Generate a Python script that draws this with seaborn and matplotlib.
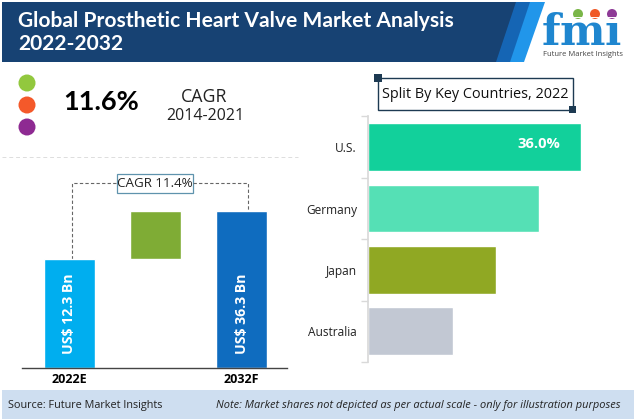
#!/usr/bin/env python3
# -*- coding: utf-8 -*-

import matplotlib
matplotlib.use("Agg")
import matplotlib.pyplot as plt
from matplotlib.patches import Polygon, Rectangle, Circle, Arc
import seaborn as sns

# data
periods = ["2022E", "Growth", "2032F"]
market_labels = ["US$ 12.3 Bn", "US$ 36.3 Bn"]
# bars are not to scale in the original, so these are drawn heights
market_heights = [10.9, 15.7]
growth_bottom = 10.9
growth_height = 4.8

countries = ["U.S.", "Germany", "Japan", "Australia"]
shares = [36.0, 28.9, 21.6, 14.3]
share_label = "36.0%"

sns.set_theme(style="white")
plt.rcParams["font.family"] = ["Lato", "DejaVu Sans"]
plt.rcParams["mathtext.fontset"] = "dejavuserif"

W, H = 634, 419
fig = plt.figure(figsize=(W / 100, H / 100), dpi=100, facecolor="white")


def px_axes(x0, y0, x1, y1):
    # axes from pixel box, y measured from top of the image
    return fig.add_axes([x0 / W, 1 - y1 / H, (x1 - x0) / W, (y1 - y0) / H])


# background layer in pixel coordinates
bg = fig.add_axes([0, 0, 1, 1])
bg.set_xlim(0, W)
bg.set_ylim(H, 0)
bg.axis("off")

# header band
bg.add_patch(Polygon([(2, 2), (545, 2), (524, 62), (2, 62)], fc="#2196ea", ec="none"))
bg.add_patch(Polygon([(2, 2), (530, 2), (510, 62), (2, 62)], fc="#1565b4", ec="none"))
bg.add_patch(Polygon([(2, 2), (516, 2), (496, 62), (2, 62)], fc="#174273", ec="none"))
bg.text(18, 21, "Global Prosthetic Heart Valve Market Analysis", color="white",
        fontsize=15.1, fontweight="bold", va="center", ha="left")
bg.text(18, 44, "2022-2032", color="white", fontsize=15.1, fontweight="bold",
        va="center", ha="left")

# logo
bg.text(582, 45, r"$\mathbf{fm\imath}$", color="#1f86cf", fontsize=31,
        ha="center", va="baseline")
for y in range(17, 48, 4):
    bg.plot([540, 626], [y, y], color="white", lw=0.7)
for cx, col in zip([578, 595, 612], ["#7ab648", "#f05a28", "#8e3a96"]):
    bg.add_patch(Circle((cx, 14), 5, fc=col, ec="none"))
bg.add_patch(Arc((595, 8), 52, 24, theta1=25, theta2=155, angle=180, ec="#2a8fd0", lw=0.8))
bg.text(583, 54, "Future Market Insights", color="#444444", fontsize=5.5,
        ha="center", va="center", family="Open Sans")

# KPI block
for cy, col in zip([83, 105, 127], ["#92c83e", "#f4592a", "#8e2a92"]):
    bg.add_patch(Circle((27, cy), 8.5, fc=col, ec="none"))
bg.text(63, 102, "11.6%", color="black", fontsize=19.5, fontweight="bold",
        va="center", ha="left")
bg.text(204, 97, "CAGR", color="#222222", fontsize=12.8, va="center", ha="center",
        family="Open Sans")
bg.text(205, 116, "2014-2021", color="#222222", fontsize=11.5, va="center",
        ha="center", family="Open Sans")
bg.plot([2, 298], [157, 157], color="#dddddd", lw=0.7, ls=(0, (4, 3)))

# CAGR connector
bg.plot([72, 72, 117], [259, 183, 183], color="#666666", lw=0.8, ls=(0, (3, 2)))
bg.plot([193, 248, 248], [183, 183, 212], color="#666666", lw=0.8, ls=(0, (3, 2)))
bg.add_patch(Rectangle((117, 174), 76, 19, fc="white", ec="#5f93ad", lw=0.9))
bg.text(155, 183.5, "CAGR 11.4%", color="#222222", fontsize=9.6, ha="center",
        va="center", family="Open Sans")

# legend-like title of the right chart
bg.add_patch(Rectangle((378, 78), 195, 32, fc="white", ec="#1d3a52", lw=1))
bg.add_patch(Rectangle((374, 74), 8, 8, fc="#1d3a52", ec="none"))
bg.add_patch(Rectangle((569, 106), 7, 7, fc="#1d3a52", ec="none"))
bg.text(475, 94.5, "Split By Key Countries, 2022", color="#111111", fontsize=10.4,
        ha="center", va="center", family="Open Sans")

# footer
bg.add_patch(Rectangle((2, 390), 632, 29, fc="#cedef0", ec="none"))
bg.text(8, 405, "Source: Future Market Insights", color="#222222", fontsize=7.8,
        va="center", ha="left", family="Open Sans")
bg.text(621, 405, "Note: Market shares not depicted as per actual scale - only for illustration purposes",
        color="#222222", fontsize=7.9, style="italic", va="center", ha="right",
        family="Open Sans")

# left chart
ax = px_axes(22, 156.5, 286.5, 367.5)
ax.patch.set_alpha(0)
sns.barplot(x=[periods[0], periods[2]], y=market_heights, hue=[periods[0], periods[2]],
            order=periods, palette=["#00aeef", "#0f6cbf"], width=0.59, legend=False,
            saturation=1, ax=ax)
sns.barplot(x=[periods[1]], y=[growth_height], order=periods, bottom=growth_bottom,
            color="#7fac35", width=0.59, saturation=1, ax=ax)
ax.set_xlim(-0.547, 2.52)
ax.set_ylim(0, 21.1)
ax.set_yticks([])
ax.set_xlabel("")
ax.set_ylabel("")
ax.set_xticks([0, 2])
ax.set_xticklabels([periods[0], periods[2]], fontsize=9, fontweight="bold", color="black",
                   family="Open Sans")
ax.tick_params(axis="x", length=0, pad=4)
sns.despine(ax=ax, left=True)
ax.spines["bottom"].set_color("#444444")
ax.spines["bottom"].set_linewidth(1)
for xpos, lab in zip([0, 2], market_labels):
    ax.text(xpos, 1.4, lab, rotation=90, color="white", fontsize=10.2,
            fontweight="bold", ha="center", va="bottom", family="Open Sans")

# right chart
ax2 = px_axes(368, 116.5, 619.5, 362)
ax2.patch.set_alpha(0)
sns.barplot(x=shares, y=countries, hue=countries, order=countries, orient="h",
            palette=["#12d09b", "#55e0b5", "#90a823", "#c2c8d3"], width=0.78,
            saturation=1, legend=False, ax=ax2)
ax2.set_xlim(0, 42.5)
ax2.set_ylim(3.5, -0.5)
ax2.set_xticks([])
ax2.set_xlabel("")
ax2.set_ylabel("")
ax2.set_yticks(range(len(countries)))
ax2.set_yticklabels(countries, fontsize=8.6, color="#222222", family="Open Sans")
ax2.set_yticks([-0.5, 0.5, 1.5, 2.5, 3.5], minor=True)
ax2.tick_params(axis="y", which="minor", length=5, color="#d9d9d9", width=1, left=True)
ax2.tick_params(axis="y", which="major", length=0, pad=8)
sns.despine(ax=ax2, bottom=True)
ax2.spines["left"].set_color("#d9d9d9")
ax2.text(28.8, -0.05, share_label, color="white", fontsize=10.6, fontweight="bold",
         ha="center", va="center", family="Open Sans")

fig.savefig("out.png", dpi=100)
